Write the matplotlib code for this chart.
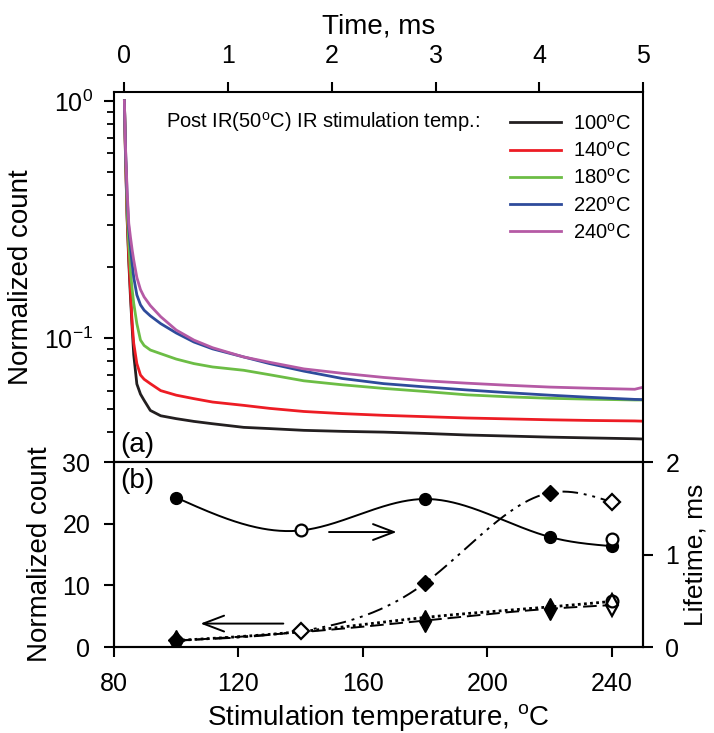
import numpy as np
import matplotlib
matplotlib.use("Agg")
import matplotlib.pyplot as plt
from matplotlib.ticker import LogLocator, NullFormatter, FixedLocator
from matplotlib.patches import FancyArrowPatch

plt.rcParams["font.family"] = ["Liberation Sans", "DejaVu Sans"]
plt.rcParams["mathtext.fontset"] = "custom"
plt.rcParams["mathtext.rm"] = "Liberation Sans"
plt.rcParams["mathtext.it"] = "Liberation Sans:italic"
plt.rcParams["mathtext.bf"] = "Liberation Sans:bold"

# --- (a) decay curves ---------------------------------------------------------
time_ms = [0, 0.01, 0.026, 0.042, 0.058, 0.075, 0.09, 0.12, 0.155, 0.19, 0.25,
           0.35, 0.5, 0.67, 0.85, 1.15, 1.4, 1.73, 2.1, 2.5, 2.9, 3.3, 3.7,
           4.1, 4.5, 4.92, 5.0]
count_100 = [1.0, 0.60, 0.32, 0.21, 0.15, 0.11, 0.085, 0.064, 0.058, 0.0546,
             0.0495, 0.047, 0.0457, 0.0445, 0.0435, 0.042, 0.0415, 0.0408,
             0.0404, 0.0401, 0.0396, 0.0390, 0.0386, 0.0382, 0.0379, 0.0376,
             0.0375]
count_140 = [1.0, 0.60, 0.33, 0.22, 0.16, 0.115, 0.095, 0.078, 0.0698, 0.067,
             0.0642, 0.060, 0.0574, 0.0555, 0.0537, 0.052, 0.0505, 0.049,
             0.048, 0.0472, 0.0466, 0.0460, 0.0456, 0.0452, 0.0449, 0.0447,
             0.0446]
count_180 = [1.0, 0.62, 0.35, 0.25, 0.193, 0.16, 0.14, 0.115, 0.098, 0.093,
             0.089, 0.0859, 0.0815, 0.078, 0.0755, 0.0731, 0.070, 0.066,
             0.0635, 0.0613, 0.0595, 0.0576, 0.0565, 0.0557, 0.0552, 0.0548,
             0.0548]
count_220 = [1.0, 0.64, 0.40, 0.29, 0.242, 0.205, 0.18, 0.152, 0.138, 0.131,
             0.124, 0.115, 0.105, 0.0962, 0.090, 0.0832, 0.078, 0.0725,
             0.0675, 0.0642, 0.0622, 0.0604, 0.0588, 0.0574, 0.0562, 0.0551,
             0.055]
count_240 = [1.0, 0.65, 0.42, 0.305, 0.267, 0.235, 0.213, 0.18, 0.160, 0.149,
             0.137, 0.123, 0.108, 0.098, 0.091, 0.0832, 0.079, 0.0741, 0.071,
             0.0682, 0.066, 0.0645, 0.0632, 0.0621, 0.0614, 0.0608, 0.062]
curve_labels = ["100$^{\\rm o}$C", "140$^{\\rm o}$C", "180$^{\\rm o}$C",
                "220$^{\\rm o}$C", "240$^{\\rm o}$C"]
curve_colors = ["#231f20", "#ed1c24", "#6cbd45", "#2e4b9b", "#b55aa5"]

# --- (b) summary vs stimulation temperature ----------------------------------
stim_temp = [100, 140, 180, 220, 240]
lifetime = [1.615, 1.26, 1.60, 1.19, 1.09]          # right axis, solid
lifetime_open_t = [140, 240]
lifetime_open = [1.26, 1.17]
count_dashdot = [1.08, 2.6, 10.4, 25.0, 23.5]        # left axis
count_dotted = [1.05, 2.5, 4.8, 6.5, 7.4]
count_dashed = [1.0, 2.4, 4.3, 6.2, 6.8]


def smooth(x, y, n=300):
    # natural cubic spline, used only to draw the connecting line
    x = np.asarray(x, float)
    y = np.asarray(y, float)
    m = len(x)
    h = np.diff(x)
    A = np.zeros((m, m))
    b = np.zeros(m)
    A[0, 0] = A[-1, -1] = 1
    for i in range(1, m - 1):
        A[i, i - 1] = h[i - 1]
        A[i, i] = 2 * (h[i - 1] + h[i])
        A[i, i + 1] = h[i]
        b[i] = 3 * ((y[i + 1] - y[i]) / h[i] - (y[i] - y[i - 1]) / h[i - 1])
    c = np.linalg.solve(A, b)
    bb = (y[1:] - y[:-1]) / h - h * (2 * c[:-1] + c[1:]) / 3
    d = (c[1:] - c[:-1]) / (3 * h)
    xs = np.linspace(x[0], x[-1], n)
    k = np.clip(np.searchsorted(x, xs) - 1, 0, m - 2)
    dx = xs - x[k]
    return xs, y[k] + bb[k] * dx + c[k] * dx ** 2 + d[k] * dx ** 3


fig = plt.figure(figsize=(7.14, 7.33), dpi=100)
ax1 = fig.add_axes([0.1597, 0.3697, 0.7409, 0.5048])
ax2 = fig.add_axes([0.1597, 0.1173, 0.7409, 0.2524])
ax2r = ax2.twinx()

# ---------------- panel (a) ----------------
for vals, lab, col in zip([count_100, count_140, count_180, count_220, count_240],
                          curve_labels, curve_colors):
    ax1.plot(time_ms, vals, color=col, lw=2.0, label=lab)

ax1.set_yscale("log")
ax1.set_xlim(-0.1, 5)
ax1.set_ylim(0.03, 1.09)
ax1.yaxis.set_major_locator(LogLocator(base=10))
ax1.yaxis.set_minor_locator(LogLocator(base=10, subs=np.arange(2, 10)))
ax1.yaxis.set_minor_formatter(NullFormatter())
ax1.xaxis.set_major_locator(FixedLocator([0, 1, 2, 3, 4, 5]))
ax1.xaxis.tick_top()
ax1.xaxis.set_label_position("top")
ax1.tick_params(axis="x", which="both", top=True, bottom=False, labeltop=True,
                labelbottom=False, direction="out", length=7, width=1.5,
                labelsize=18, pad=10)
ax1.tick_params(axis="y", which="major", left=True, right=False, direction="out",
                length=7, width=1.5, labelsize=18, pad=8)
ax1.tick_params(axis="y", which="minor", left=True, right=False, direction="out",
                length=5, width=1.3)
ax1.set_xlabel("Time, ms", fontsize=20, labelpad=8)
ax1.set_ylabel("Normalized count", fontsize=20, labelpad=7)
for s in ax1.spines.values():
    s.set_linewidth(1.5)

ax1.text(0.0976, 0.919, "Post IR(50$^{\\rm o}$C) IR stimulation temp.:",
         transform=ax1.transAxes, fontsize=14.5, va="center", ha="left")
ax1.legend(loc="upper left", bbox_to_anchor=(0.749, 0.942), frameon=False,
           fontsize=14.5, handlelength=2.5, handletextpad=0.6, labelspacing=0.36,
           borderpad=0, borderaxespad=0)
ax1.text(0.012, 0.012, "(a)", transform=ax1.transAxes, fontsize=20,
         va="bottom", ha="left")

# ---------------- panel (b) ----------------
xs, ys = smooth(stim_temp, lifetime)
ax2r.plot(xs, ys, color="black", lw=1.4)
fill_idx = [0, 2, 3, 4]
ax2r.plot([stim_temp[i] for i in fill_idx], [lifetime[i] for i in fill_idx],
          ls="none", marker="o", ms=8.5, color="black")
ax2r.plot(lifetime_open_t, lifetime_open, ls="none", marker="o", ms=8.5,
          mfc="white", mec="black", mew=1.6)

xs, ys = smooth(stim_temp, count_dashdot)
ax2.plot(xs, ys, color="black", lw=1.4, ls=(0, (8, 3, 1.5, 3, 1.5, 3)))
xs, ys = smooth(stim_temp, count_dotted)
ax2.plot(xs, ys, color="black", lw=2.0, ls=(0, (1, 1.2)))
xs, ys = smooth(stim_temp, count_dashed)
ax2.plot(xs, ys, color="black", lw=1.4, ls=(0, (7, 3)))

ax2.plot([stim_temp[i] for i in [0, 2, 3]], [count_dashdot[i] for i in [0, 2, 3]],
         ls="none", marker="D", ms=8, color="black")
ax2.plot([stim_temp[i] for i in [1, 4]], [count_dashdot[i] for i in [1, 4]],
         ls="none", marker="D", ms=8, mfc="white", mec="black", mew=1.6)
ax2.plot([stim_temp[i] for i in [0, 2, 3]], [count_dashed[i] for i in [0, 2, 3]],
         ls="none", marker="d", ms=11, color="black")
ax2.plot(stim_temp[0], count_dotted[0], ls="none", marker="o", ms=8.5, color="black")
ax2.plot(stim_temp[4], count_dashed[4], ls="none", marker="d", ms=11,
         mfc="white", mec="black", mew=1.6)
ax2.plot(stim_temp[4], count_dotted[4], ls="none", marker="o", ms=8.5,
         mfc="none", mec="black", mew=1.6)

ax2.set_xlim(80, 250)
ax2.set_ylim(0, 30)
ax2r.set_ylim(0, 2)
ax2.set_xticks([80, 120, 160, 200, 240])
ax2.set_yticks([0, 10, 20, 30])
ax2r.set_yticks([0, 1, 2])
ax2.tick_params(axis="x", direction="out", length=7, width=1.5, labelsize=18, pad=11)
ax2.tick_params(axis="y", direction="out", length=7, width=1.5, labelsize=18, pad=10)
ax2r.tick_params(axis="y", direction="out", length=7, width=1.5, labelsize=18, pad=9)
ax2.set_xlabel("Stimulation temperature, $^{\\rm o}$C", fontsize=20, labelpad=4)
ax2.set_ylabel("Normalized count", fontsize=20, labelpad=7)
ax2r.set_ylabel("Lifetime, ms", fontsize=19, labelpad=3)
for a in (ax2, ax2r):
    for s in a.spines.values():
        s.set_linewidth(1.5)

ax2.add_patch(FancyArrowPatch((135.3, 3.8), (106.9, 3.8),
                              arrowstyle="->,head_length=1.0,head_width=0.38",
                              mutation_scale=15, lw=1.4, color="black"))
ax2r.add_patch(FancyArrowPatch((148.2, 1.243), (171.7, 1.243),
                               arrowstyle="->,head_length=1.0,head_width=0.38",
                               mutation_scale=15, lw=1.4, color="black"))
ax2.text(0.012, 0.97, "(b)", transform=ax2.transAxes, fontsize=20,
         va="top", ha="left")

fig.savefig("out.png", dpi=100)
